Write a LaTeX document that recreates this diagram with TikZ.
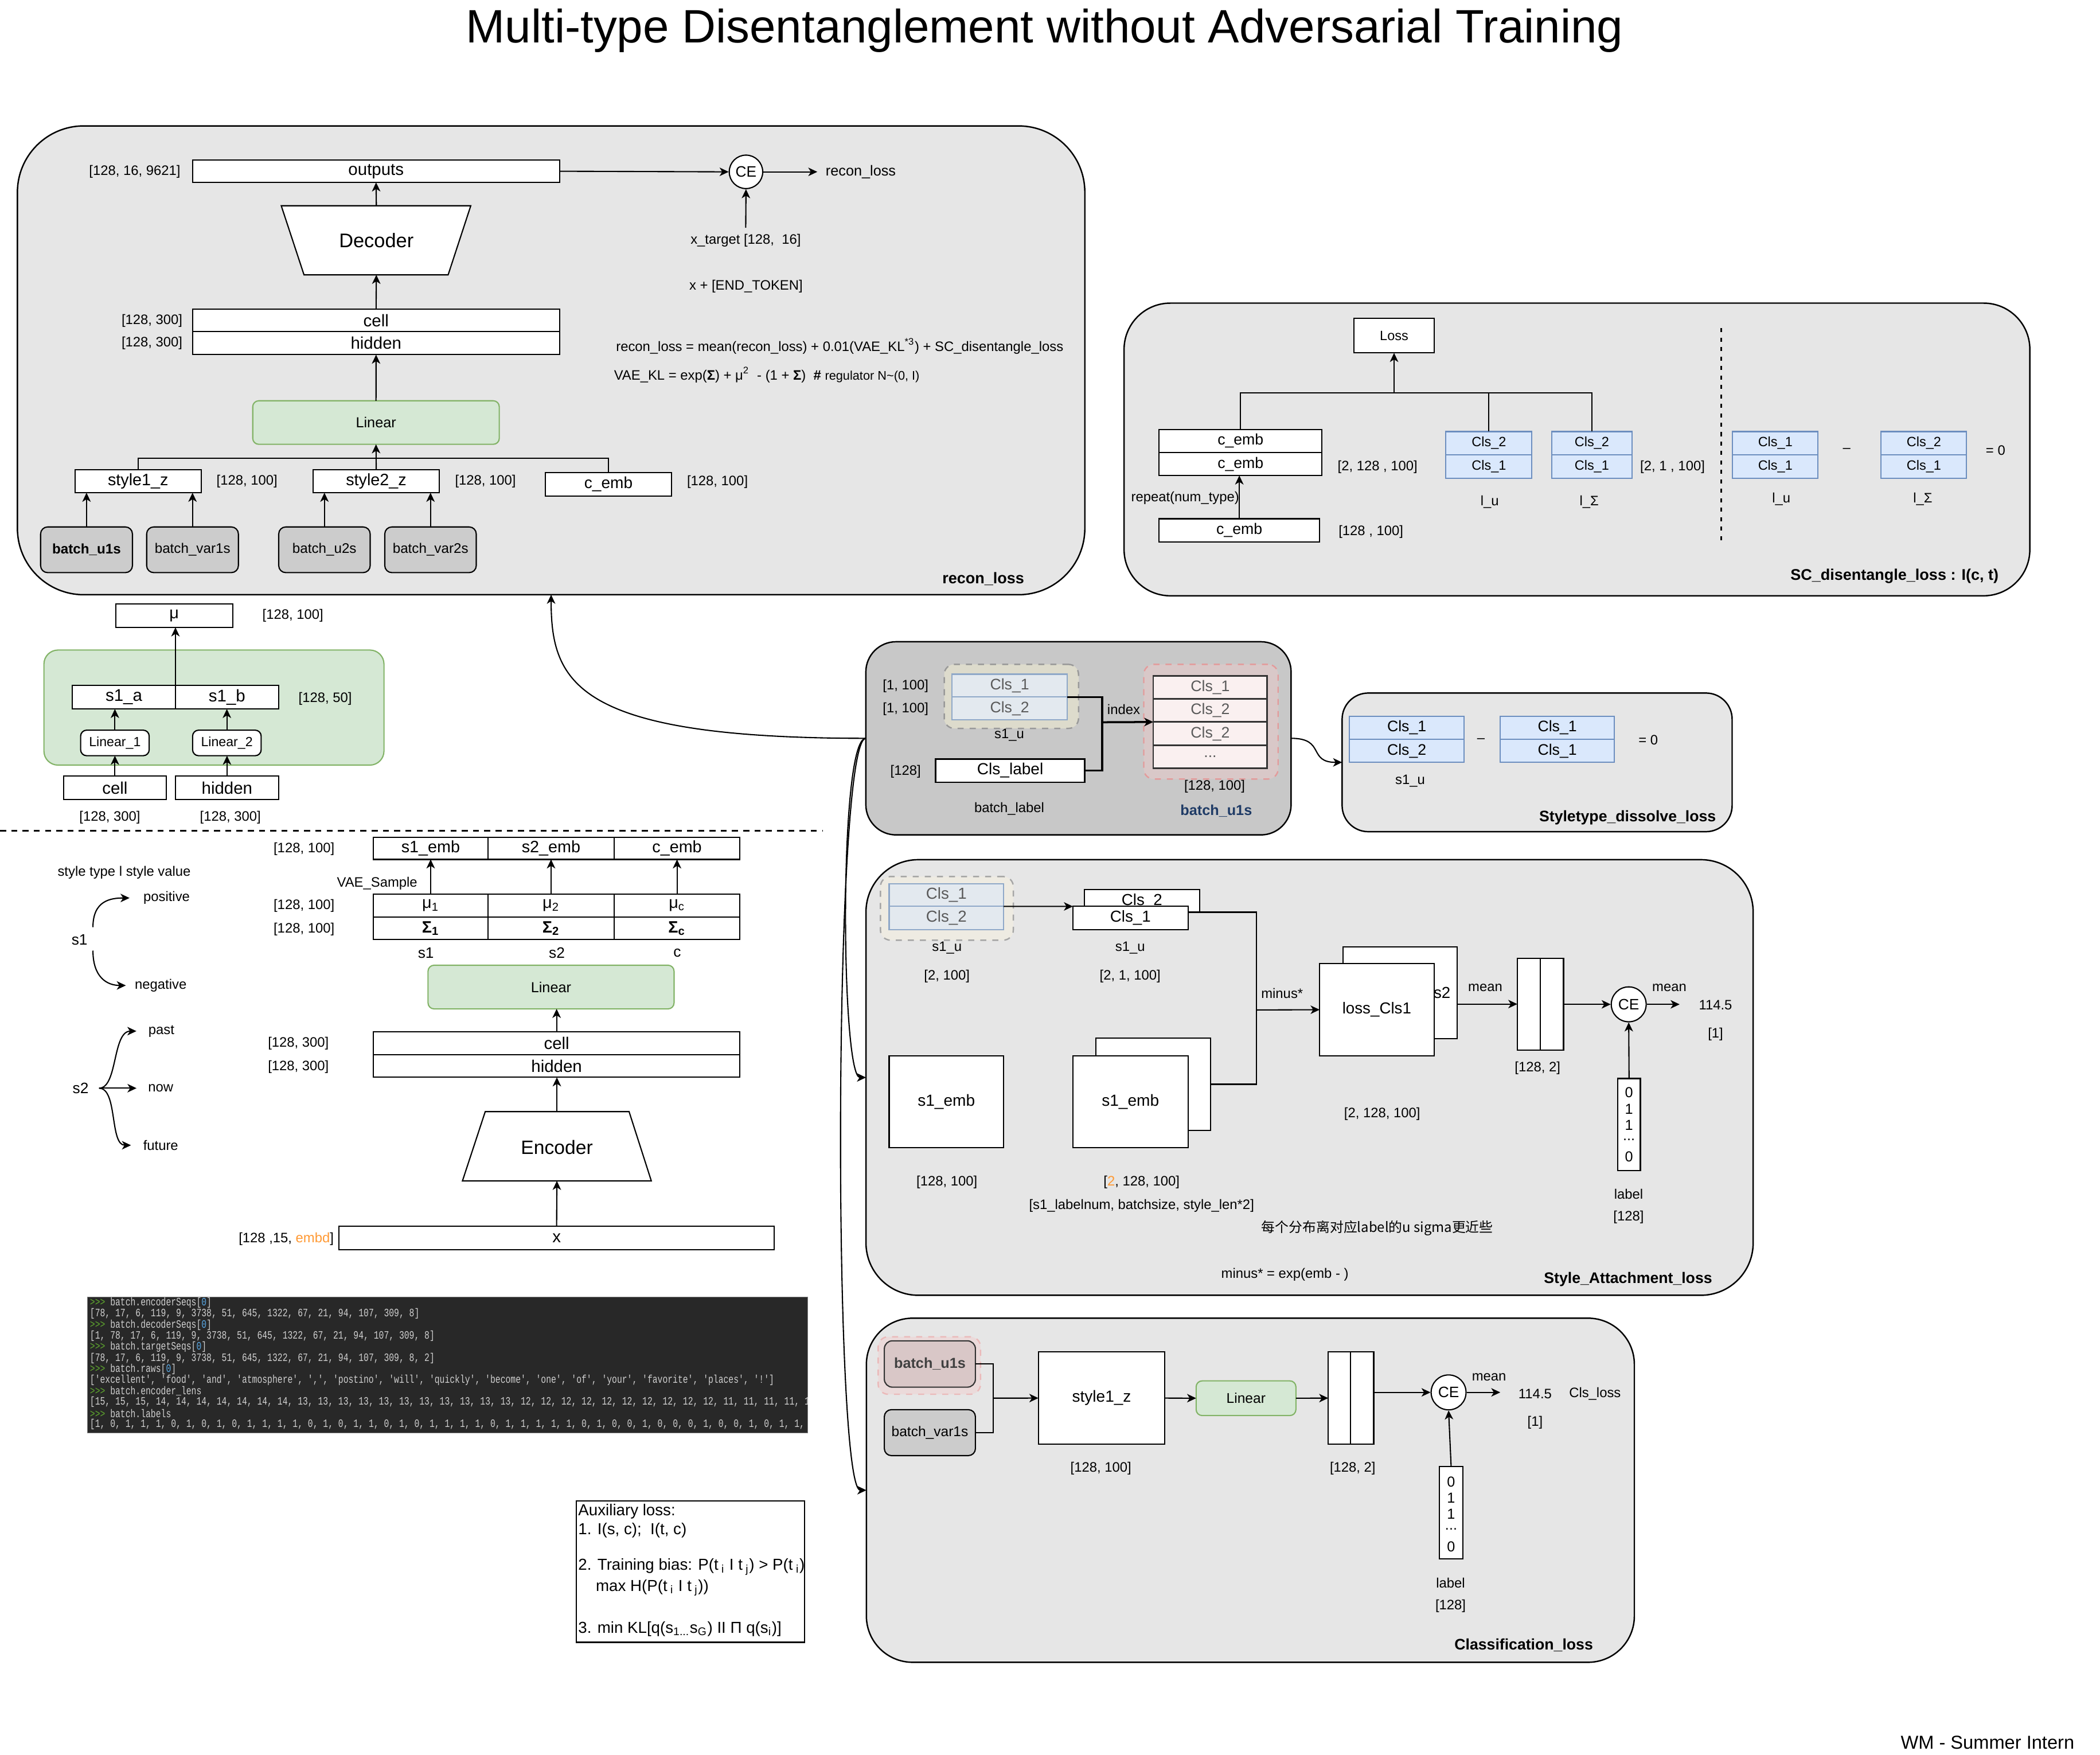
\documentclass[tikz,border=0pt]{standalone}
\usepackage{fontspec}
\setmainfont{Liberation Sans}
\newfontfamily\cjkfont{Noto Sans CJK SC}
\newfontfamily\codefont{Liberation Mono}
\usetikzlibrary{arrows.meta,calc}
\definecolor{bggray}{HTML}{E6E6E6}
\definecolor{dgray}{HTML}{C8C8C8}
\definecolor{bgray}{HTML}{CCCCCC}
\definecolor{gfill}{HTML}{D5E8D4}
\definecolor{gline}{HTML}{82B366}
\definecolor{bfill}{HTML}{DAE8FC}
\definecolor{bline}{HTML}{6C8EBF}
\definecolor{txgray}{HTML}{5A5A5A}
\definecolor{beige1}{HTML}{DDDBCC}
\definecolor{beige2}{HTML}{EEEBE2}
\definecolor{pink1}{HTML}{D9C8C8}
\definecolor{pinkline}{HTML}{E39B9B}
\definecolor{pinkcell}{HTML}{FAF0F0}
\definecolor{pink2}{HTML}{EBDADA}
\definecolor{rose}{HTML}{D9C7C7}
\definecolor{gcellfill}{HTML}{E3E9EF}
\definecolor{gcellline}{HTML}{8FA8C8}
\definecolor{codebg}{HTML}{282828}
\definecolor{codetx}{HTML}{D0D0D0}
\definecolor{codegr}{HTML}{5FA82E}
\definecolor{codebl}{HTML}{5AA9E6}
\definecolor{orng}{HTML}{FF9933}
\definecolor{navy}{HTML}{1F3B66}
\newcommand\mkbox[7]{%
  \pgfmathsetmacro\mkw{abs(#4-#2)*0.0234}%
  \pgfmathsetmacro\mkh{abs(#5-#3)*0.0234}%
  \node[inner sep=0pt, outer sep=0pt, minimum width=\mkw cm, minimum height=\mkh cm, #6] (#1) at ({(#2+#4)/2},{(#3+#5)/2}) {#7};%
}
\newcommand\sq{\textquotesingle}
\newcommand\pr{\textcolor{codegr}{>>>}\ }
\tikzset{
 fs/.style={font=\fontsize{#1}{#1}\selectfont},
 fsb/.style={font=\bfseries\fontsize{#1}{#1}\selectfont},
 lbl/.style={fs=6.8, inner sep=0pt},
 grp/.style={draw, fill=bggray, line width=0.7pt},
 box/.style={draw, fill=white, line width=0.6pt},
 gbox/.style={draw=gline, fill=gfill, line width=0.6pt, rounded corners=3pt},
 bbox/.style={draw, fill=bgray, line width=0.6pt, rounded corners=3.5pt},
 bluec/.style={draw=bline, fill=bfill, line width=0.6pt},
 gcell/.style={draw=gcellline, fill=gcellfill, line width=0.6pt, text=txgray, fs=7.6},
 pcell/.style={draw=black!80, fill=pinkcell, line width=0.8pt, text=txgray, fs=7.6},
 arr/.style={-{Stealth[length=4.5pt,width=4.2pt,inset=1.3pt]}, line width=0.6pt},
 cn/.style={line width=0.6pt},
 cecirc/.style={circle, draw, fill=white, line width=0.6pt, inner sep=0pt, fs=7.5},
 codeln/.style={anchor=west, inner sep=0pt, text=codetx, font=\codefont\fontsize{5.6}{5.6}\selectfont},
}
\begin{document}
\begin{tikzpicture}[x=0.0234cm, y=-0.0234cm]
\useasboundingbox (0,0) rectangle (1568,1310);
\fill[white] (0,0) rectangle (1568,1310);

\node[fs=23.3, anchor=base, inner sep=0pt] (title) at (780,32) {Multi-type Disentanglement without Adversarial Training};

% ===== recon_loss =====
\mkbox{recon}{13}{94}{810}{444}{grp, rounded corners=33pt}{}
\mkbox{outputs}{143.7}{119.5}{417.9}{136.2}{box, fs=8.4}{outputs}
\node[lbl, anchor=east] at (135,128) {[128, 16, 9621]};
\draw[box] (210,153.6) -- (351.5,153.6) -- (334.6,205.2) -- (227,205.2) -- cycle;
\node[fs=9.8] (dec) at (281,179.6) {Decoder};
\coordinate (dectop) at (281,153.6);
\coordinate (decbot) at (281,205.2);
\draw[arr] (dectop) -- (outputs.south);
\mkbox{cell}{143.7}{230.9}{417.9}{247.6}{box, fs=8.4}{cell}
\mkbox{hidden}{143.7}{247.6}{417.9}{264.8}{box, fs=8.4}{hidden}
\draw[arr] (cell.north) -- (decbot);
\node[lbl, anchor=east] at (136.5,239.3) {[128, 300]};
\node[lbl, anchor=east] at (136.5,256.2) {[128, 300]};
\mkbox{lin}{188.7}{299.2}{372.8}{331.7}{gbox, fs=7.2}{Linear}
\draw[arr] (lin.north) -- (hidden.south);
\mkbox{s1z}{56}{350.5}{150.2}{367.9}{box, fs=8.2}{style1\_z}
\mkbox{s2z}{233.8}{350.5}{328}{367.9}{box, fs=8.2}{style2\_z}
\mkbox{cemb}{407.2}{353}{501.4}{370.2}{box, fs=8}{c\_emb}
\node[lbl] at (184.4,359.2) {[128, 100]};
\node[lbl] at (362.5,359.2) {[128, 100]};
\node[lbl] at (535.7,360) {[128, 100]};
\draw[cn] (s1z.north) -- ++(0,-8.4) -| (cemb.north);
\draw[arr] (s2z.north) -- (lin.south);
\mkbox{bu1}{30.3}{393.4}{98.9}{427.5}{bbox, fsb=6.9}{batch\_u1s}
\mkbox{bv1}{109.5}{393.4}{178}{427.5}{bbox, fs=6.9}{batch\_var1s}
\mkbox{bu2}{208.1}{393.4}{276.4}{427.5}{bbox, fs=6.9}{batch\_u2s}
\mkbox{bv2}{287.3}{393.4}{355.6}{427.5}{bbox, fs=6.9}{batch\_var2s}
\draw[arr] (bu1.north) -- (bu1.north |- s1z.south);
\draw[arr] (bv1.north) -- (bv1.north |- s1z.south);
\draw[arr] (bu2.north) -- (bu2.north |- s2z.south);
\draw[arr] (bv2.north) -- (bv2.north |- s2z.south);
\node[cecirc, minimum size=0.585cm] (ce0) at (557,128.3) {CE};
\draw[arr] (outputs.east) -- (ce0.west);
\node[fs=7.2, inner sep=0pt] (rl) at (642.7,128.3) {recon\_loss};
\draw[arr, shorten >=4pt] (ce0.east) -- (rl.west);
\node[lbl] (xt) at (556.8,179.6) {x\_target [128,\ \ 16]};
\draw[arr] ([yshift=3pt]xt.north) -- (ce0.south);
\node[lbl] at (557,213.7) {x + [END\_TOKEN]};
\node[lbl, anchor=west] at (459.7,258.5) {recon\_loss = mean(recon\_loss) + 0.01(VAE\_KL\textsuperscript{*3}) + SC\_disentangle\_loss};
\node[lbl, anchor=west] at (458.2,280) {VAE\_KL = exp(\textbf{Σ}) + μ\textsuperscript{2}\ \ - (1 + \textbf{Σ})\ \ \textbf{\#} {\fontsize{6.2}{6.2}\selectfont regulator N\textasciitilde(0, I)}};
\node[fsb=7.7, anchor=east, inner sep=0pt] at (765,432) {recon\_loss};

% ===== SC_disentangle_loss =====
\mkbox{scbox}{839.3}{226.3}{1515.6}{444.8}{grp, rounded corners=23pt}{}
\mkbox{loss}{1011}{237.6}{1070.8}{263.5}{box, fs=6.7}{Loss}
\mkbox{sce1}{865.5}{320.6}{987}{337.8}{box, fs=7.6}{c\_emb}
\mkbox{sce2}{865.5}{337.8}{987}{355}{box, fs=7.6}{c\_emb}
\mkbox{sce3}{865.5}{387.3}{985.2}{404.7}{box, fs=7.6}{c\_emb}
\draw[arr] (sce3.north) -- (sce3.north |- sce2.south);
\node[lbl, anchor=east] at (925.5,371.7) {repeat(num\_type)};
\mkbox{lu2}{1079.6}{322.2}{1143.8}{339.6}{bluec, fs=6.7}{Cls\_2}
\mkbox{lu1}{1079.6}{339.6}{1143.8}{357}{bluec, fs=6.7}{Cls\_1}
\mkbox{ls2}{1158.6}{322.2}{1218.5}{339.6}{bluec, fs=6.7}{Cls\_2}
\mkbox{ls1}{1158.6}{339.6}{1218.5}{357}{bluec, fs=6.7}{Cls\_1}
\coordinate (scbus) at (1040.9,293.3);
\draw[cn] (sce1.north) |- (ls2.north |- scbus) -- (ls2.north);
\draw[cn] (lu2.north) -- (lu2.north |- scbus);
\draw[arr] (scbus) -- (loss.south);
\node[lbl] at (1028.6,348.5) {[2, 128 , 100]};
\node[lbl] at (1248.8,348.5) {[2, 1 , 100]};
\node[lbl] at (1112.3,374.6) {l\_u};
\node[lbl] at (1186.6,374.6) {l\_Σ};
\node[lbl] at (1023.6,397) {[128 , 100]};
\draw[dash pattern=on 2pt off 2.7pt, line width=0.8pt] (1285,245) -- (1285,404.3);
\mkbox{ra1}{1293.7}{322.2}{1357.4}{339.6}{bluec, fs=6.7}{Cls\_1}
\mkbox{ra2}{1293.7}{339.6}{1357.4}{357}{bluec, fs=6.7}{Cls\_1}
\mkbox{rb1}{1404.6}{322.2}{1468.4}{339.6}{bluec, fs=6.7}{Cls\_2}
\mkbox{rb2}{1404.6}{339.6}{1468.4}{357}{bluec, fs=6.7}{Cls\_1}
\node[lbl] at (1378.8,336.2) {–};
\node[lbl] at (1490,336.2) {= 0};
\node[lbl] at (1330,372.4) {l\_u};
\node[lbl] at (1435.7,372.4) {l\_Σ};
\node[fsb=7.7, anchor=east, inner sep=0pt] at (1492.5,430.3) {SC\_disentangle\_loss : I(c, t)};

% ===== mu block =====
\mkbox{mu}{86.4}{451}{173.7}{468.4}{box, fs=8.2}{μ}
\node[lbl] at (218.7,459.6) {[128, 100]};
\mkbox{gg}{32.8}{485.3}{286.7}{571.2}{draw=gline, fill=gfill, line width=0.6pt, rounded corners=7pt}{}
\mkbox{s1a}{54}{511.8}{131}{529.3}{box, fs=8.4}{s1\_a}
\mkbox{s1b}{131}{511.8}{208}{529.3}{box, fs=8.4}{s1\_b}
\node[lbl] at (242.8,521.7) {[128, 50]};
\mkbox{l1}{60.2}{545.1}{111.4}{564.2}{box, rounded corners=3pt, fs=6.6}{Linear\_1}
\mkbox{l2}{143.8}{545.1}{195}{564.2}{box, rounded corners=3pt, fs=6.6}{Linear\_2}
\mkbox{c2}{47.5}{579.5}{124.1}{596.8}{box, fs=8.4}{cell}
\mkbox{h2}{131}{579.5}{208}{596.8}{box, fs=8.4}{hidden}
\draw[arr] (l1.north) -- (l1.north |- s1a.south);
\draw[arr] (l2.north) -- (l2.north |- s1b.south);
\draw[arr] (c2.north) -- (c2.north |- l1.south);
\draw[arr] (h2.north) -- (h2.north |- l2.south);
\draw[arr] (s1a.north east) -- (s1a.north east |- mu.south);
\node[lbl] at (82,610.2) {[128, 300]};
\node[lbl] at (172,610.2) {[128, 300]};
\draw[dash pattern=on 3pt off 2.6pt, line width=0.8pt] (0,620.2) -- (614,620.2);

% ===== encoder =====
\mkbox{e1}{278.8}{625}{364.3}{641.6}{box, fs=8.2}{s1\_emb}
\mkbox{e2}{364.3}{625}{458.6}{641.6}{box, fs=8.2}{s2\_emb}
\mkbox{e3}{458.6}{625}{552.4}{641.6}{box, fs=8.2}{c\_emb}
\mkbox{m1}{278.8}{667.6}{364.3}{684.6}{box, fs=8.2}{μ\textsubscript{1}}
\mkbox{m2}{364.3}{667.6}{458.6}{684.6}{box, fs=8.2}{μ\textsubscript{2}}
\mkbox{m3}{458.6}{667.6}{552.4}{684.6}{box, fs=8.2}{μ\textsubscript{c}}
\mkbox{v1}{278.8}{684.6}{364.3}{701.4}{box, fs=8.2}{\textbf{Σ\textsubscript{1}}}
\mkbox{v2}{364.3}{684.6}{458.6}{701.4}{box, fs=8.2}{\textbf{Σ\textsubscript{2}}}
\mkbox{v3}{458.6}{684.6}{552.4}{701.4}{box, fs=8.2}{\textbf{Σ\textsubscript{c}}}
\draw[arr] (m1.north) -- (e1.south);
\draw[arr] (m2.north) -- (e2.south);
\draw[arr] (m3.north) -- (e3.south);
\node[lbl] at (227,633.7) {[128, 100]};
\node[lbl] at (227,676.3) {[128, 100]};
\node[lbl] at (227,693.8) {[128, 100]};
\node[lbl] at (281.6,659.5) {VAE\_Sample};
\node[fs=7.5, inner sep=0pt] at (318,711.3) {s1};
\node[fs=7.5, inner sep=0pt] at (415.8,711.3) {s2};
\node[fs=7.5, inner sep=0pt] at (505.7,711.3) {c};
\mkbox{lin2}{319.6}{720.6}{503.3}{753.2}{gbox, fs=7.2}{Linear}
\mkbox{cell3}{278.8}{770.2}{552.4}{787.3}{box, fs=8.4}{cell}
\mkbox{hid3}{278.8}{787.3}{552.4}{804.3}{box, fs=8.4}{hidden}
\draw[arr] (cell3.north) -- (cell3.north |- lin2.south);
\node[lbl] at (222.8,779.2) {[128, 300]};
\node[lbl] at (222.8,796.5) {[128, 300]};
\draw[box] (362.3,829.9) -- (469.7,829.9) -- (486.3,881.6) -- (345.3,881.6) -- cycle;
\node[fs=9.6] (enc) at (415.8,856.5) {Encoder};
\coordinate (enctop) at (415.8,829.9);
\coordinate (encbot) at (415.8,881.6);
\draw[arr] (enctop) -- (enctop |- hid3.south);
\mkbox{xin}{253}{915.5}{578.2}{933}{box, fs=8.4}{x}
\draw[arr] (xin.north) -- (encbot);
\node[lbl, anchor=east] at (249.5,925) {[128 ,15, \textcolor{orng}{embd}]};

% ===== style tree =====
\node[lbl] at (92.7,651.2) {style type l style value};
\node[fs=7.5, inner sep=0pt] (ts1) at (59.4,701.6) {s1};
\node[lbl] (pos) at (124.4,670.4) {positive};
\node[lbl] (neg) at (120,735.7) {negative};
\draw[arr] ([shift={(10,-9.4)}]ts1.center) .. controls +(0,-20) and +(-14,0) .. ([xshift=-6.7pt]pos.west);
\draw[arr] ([shift={(10,8.1)}]ts1.center) .. controls +(0,20) and +(-14,0) .. ([xshift=-4.3pt]neg.west);
\node[fs=7.5, inner sep=0pt] (ts2) at (60.2,812.4) {s2};
\node[lbl] (past) at (120.5,769.8) {past};
\node[lbl] (now) at (120,812.4) {now};
\node[lbl] (fut) at (120,855) {future};
\draw[arr] ([xshift=5pt]ts2.east) .. controls +(14,0) and +(-18,0) .. ([xshift=-5.8pt]past.west);
\draw[arr] ([xshift=5pt]ts2.east) -- ([xshift=-5.6pt]now.west);
\draw[arr] ([xshift=5pt]ts2.east) .. controls +(14,0) and +(-16,0) .. ([xshift=-5.9pt]fut.west);

% ===== code block =====
\mkbox{code}{65.2}{968.4}{603}{1069.7}{fill=codebg, draw=gray, line width=0.4pt}{}
\begin{scope}
\clip (65.2,968.4) rectangle (603,1069.7);
\node[codeln] at (66.9,972.7) {\scalebox{0.75}[1]{\pr batch.encoderSeqs[\textcolor{codebl}{0}]}};
\node[codeln] at (66.9,980.9) {\scalebox{0.75}[1]{[78, 17, 6, 119, 9, 3738, 51, 645, 1322, 67, 21, 94, 107, 309, 8]}};
\node[codeln] at (66.9,989.2) {\scalebox{0.75}[1]{\pr batch.decoderSeqs[\textcolor{codebl}{0}]}};
\node[codeln] at (66.9,997.4) {\scalebox{0.75}[1]{[1, 78, 17, 6, 119, 9, 3738, 51, 645, 1322, 67, 21, 94, 107, 309, 8]}};
\node[codeln] at (66.9,1005.7) {\scalebox{0.75}[1]{\pr batch.targetSeqs[\textcolor{codebl}{0}]}};
\node[codeln] at (66.9,1013.9) {\scalebox{0.75}[1]{[78, 17, 6, 119, 9, 3738, 51, 645, 1322, 67, 21, 94, 107, 309, 8, 2]}};
\node[codeln] at (66.9,1022.1) {\scalebox{0.75}[1]{\pr batch.raws[\textcolor{codebl}{0}]}};
\node[codeln] at (66.9,1030.4) {\scalebox{0.75}[1]{[\sq excellent\sq, \sq food\sq, \sq and\sq, \sq atmosphere\sq, \sq,\sq, \sq postino\sq, \sq will\sq, \sq quickly\sq, \sq become\sq, \sq one\sq, \sq of\sq, \sq your\sq, \sq favorite\sq, \sq places\sq, \sq !\sq]}};
\node[codeln] at (66.9,1038.6) {\scalebox{0.75}[1]{\pr batch.encoder\_lens}};
\node[codeln] at (66.9,1046.8) {\scalebox{0.75}[1]{[15, 15, 15, 14, 14, 14, 14, 14, 14, 14, 13, 13, 13, 13, 13, 13, 13, 13, 13, 13, 13, 12, 12, 12, 12, 12, 12, 12, 12, 12, 12, 11, 11, 11, 11, 11}};
\node[codeln] at (66.9,1055.1) {\scalebox{0.75}[1]{\pr batch.labels}};
\node[codeln] at (66.9,1063.3) {\scalebox{0.75}[1]{[1, 0, 1, 1, 1, 0, 1, 0, 1, 0, 1, 1, 1, 1, 0, 1, 0, 1, 1, 0, 1, 0, 1, 1, 1, 1, 0, 1, 1, 1, 1, 1, 0, 1, 0, 0, 1, 0, 0, 0, 1, 0, 0, 1, 0, 1, 1, 0}};
\end{scope}

% ===== auxiliary =====
\mkbox{aux}{430.3}{1120.4}{600.9}{1226.1}{box}{}
\node[fs=7.9, anchor=west, inner sep=0pt] at (431.5,1128.3) {Auxiliary loss:};
\node[fs=7.9, anchor=west, inner sep=0pt] at (431.5,1142.6) {1. I(s, c);\ \ I(t, c)};
\node[fs=7.9, anchor=west, inner sep=0pt] at (431.5,1169.7) {2. Training bias: P(t\textsubscript{ i} I t\textsubscript{ j}) > P(t\textsubscript{ i})};
\node[fs=7.9, anchor=west, inner sep=0pt] at (444.6,1185.4) {max H(P(t\textsubscript{ i} I t\textsubscript{ j}))};
\node[fs=7.9, anchor=west, inner sep=0pt] at (431.5,1216.1) {3. min KL[q(s\textsubscript{1...}s\textsubscript{G}) II Π q(s\textsubscript{i})]};

% ===== batch group =====
\mkbox{bgrp}{646.5}{479.1}{964}{623.3}{draw, fill=dgray, line width=0.7pt, rounded corners=15pt}{}
\mkbox{s1ug}{705}{496}{805.3}{543.8}{draw=gray!80, fill=beige1, dashed, line width=0.7pt, rounded corners=5pt}{}
\mkbox{bc1}{710.9}{503.3}{796.8}{520.4}{gcell}{Cls\_1}
\mkbox{bc2}{710.9}{520.4}{796.8}{537.5}{gcell}{Cls\_2}
\node[lbl] at (676.2,512.4) {[1, 100]};
\node[lbl] at (676.2,529.5) {[1, 100]};
\node[lbl] at (753.6,548.8) {s1\_u};
\mkbox{pgrp}{854}{496}{954.3}{581.6}{draw=pinkline, fill=pink1, dashed, line width=0.7pt, rounded corners=5pt}{}
\mkbox{pc1}{861.1}{504.7}{946.2}{521.8}{pcell}{Cls\_1}
\mkbox{pc2}{861.1}{521.8}{946.2}{539}{pcell}{Cls\_2}
\mkbox{pc3}{861.1}{539}{946.2}{556.4}{pcell}{Cls\_2}
\mkbox{pc4}{861.1}{556.4}{946.2}{573.5}{pcell}{...}
\mkbox{clab}{698.6}{566.6}{810}{584}{box, line width=0.8pt, fs=8}{Cls\_label}
\node[lbl] at (676.2,575.9) {[128]};
\coordinate (idx) at (823,539.2);
\draw[line width=1pt] (bc1.south east) -| (idx);
\draw[line width=1pt] (clab.east) -| (idx);
\draw[arr, line width=1pt] (idx) -- (pc3.north west);
\node[lbl] at (839,529.5) {index};
\node[lbl] at (906.9,587.3) {[128, 100]};
\node[lbl] at (753.6,603.7) {batch\_label};
\node[fsb=7.2, text=navy, inner sep=0pt] at (908.1,605.6) {batch\_u1s};

% ===== Styletype =====
\mkbox{stbox}{1002.1}{517.4}{1293.3}{620.9}{grp, rounded corners=13pt}{}
\mkbox{st1}{1007.6}{534.8}{1093.1}{551.9}{bluec, fs=7.6}{Cls\_1}
\mkbox{st2}{1007.6}{551.9}{1093.1}{569.2}{bluec, fs=7.6}{Cls\_2}
\mkbox{st3}{1120.2}{534.8}{1205.3}{551.9}{bluec, fs=7.6}{Cls\_1}
\mkbox{st4}{1120.2}{551.9}{1205.3}{569.2}{bluec, fs=7.6}{Cls\_1}
\node[lbl] at (1105.8,552.6) {–};
\node[lbl] at (1230.7,552.6) {= 0};
\node[lbl] at (1052.9,583) {s1\_u};
\node[fsb=7.6, anchor=east, inner sep=0pt] at (1281.5,610.2) {Styletype\_dissolve\_loss};
\draw[arr] (bgrp.east) .. controls (990,551.2) and (976,569.2) .. (stbox.west);

% ===== Style_Attachment =====
\mkbox{sabox}{646.6}{641.8}{1309}{967}{grp, rounded corners=26pt}{}
\mkbox{sag}{657.4}{654.4}{756.6}{701.9}{draw=gray!70, fill=beige2, dashed, line width=0.7pt, rounded corners=5pt}{}
\mkbox{sa1}{663.9}{659.7}{749.3}{676.7}{gcell, fs=7.9}{Cls\_1}
\mkbox{sa2}{663.9}{676.7}{749.3}{694}{gcell, fs=7.9}{Cls\_2}
\node[lbl] at (707,707.6) {s1\_u};
\node[lbl] at (707,728.9) {[2, 100]};
\mkbox{sb2}{809.7}{664.2}{895.6}{681}{box, fs=7.9}{Cls\_2}
\mkbox{sb1}{801.1}{676.7}{887}{694}{box, fs=7.9}{Cls\_1}
\draw[arr] (sa1.south east) -- (sb1.north west);
\node[lbl] at (843.8,707.6) {s1\_u};
\node[lbl] at (843.8,728.9) {[2, 1, 100]};
\mkbox{se0}{663.9}{788.1}{749.3}{856.7}{box, fs=8}{s1\_emb}
\mkbox{seb}{818.3}{774.9}{903.8}{844}{box}{}
\mkbox{sef}{801.1}{788.1}{887}{856.7}{box, fs=8}{s1\_emb}
\coordinate (mn) at (938.3,754);
\draw[cn] (sb2.south east) -| (mn);
\draw[cn] (seb.east) -| (mn);
\mkbox{lb}{1002.6}{706.8}{1088}{775.3}{box}{}
\node[fs=7.9, anchor=east, inner sep=0pt] at (1083.3,742) {loss\_Cls2};
\mkbox{lf}{985.3}{719.5}{1070.7}{788.1}{box, fs=7.9}{loss\_Cls1}
\draw[arr] (mn) -- (lf.west);
\node[lbl] at (957.3,741.7) {minus*};
\mkbox{r2a}{1132.9}{715.3}{1150.1}{783.9}{box}{}
\mkbox{r2b}{1150.1}{715.3}{1167.4}{783.9}{box}{}
\draw[arr] (lb.east |- r2a.west) -- (r2a.west);
\node[lbl] at (1109,737.6) {mean};
\node[lbl] at (1148,797.3) {[128, 2]};
\node[cecirc, minimum size=0.61cm] (ce1) at (1216.1,749.8) {CE};
\draw[arr] (r2b.east |- ce1.west) -- (ce1.west);
\coordinate (m1end) at (1254.1,749.8);
\draw[arr] (ce1.east) -- (m1end);
\node[lbl] at (1246.4,737.6) {mean};
\node[lbl] at (1280.9,750.2) {114.5};
\node[lbl] at (1280.9,772.1) {[1]};
\mkbox{lab1}{1207.9}{805.2}{1224.8}{873.8}{box}{}
\node[fs=7.2, inner sep=0pt] at (1216.3,815.8) {0};
\node[fs=7.2, inner sep=0pt] at (1216.3,828) {1};
\node[fs=7.2, inner sep=0pt] at (1216.3,839.9) {1};
\node[fs=7.2, inner sep=0pt] at (1216.3,851) {...};
\node[fs=7.2, inner sep=0pt] at (1216.3,863.7) {0};
\draw[arr] (lab1.north) -- (ce1.south);
\node[lbl] at (1216,891.4) {label};
\node[lbl] at (1216,908.9) {[128]};
\node[lbl] at (1032,831.8) {[2, 128, 100]};
\node[lbl] at (707,882.5) {[128, 100]};
\node[lbl] at (852.4,882.5) {[\textcolor{orng}{2}, 128, 100]};
\node[lbl] at (852.4,900) {[s1\_labelnum, batchsize, style\_len*2]};
\node[font=\cjkfont\fontsize{6.8}{6.8}\selectfont, inner sep=0pt] at (1028.4,917) {每个分布离对应label的u sigma更近些};
\node[lbl] at (959.4,951.7) {minus* = exp(emb - )};
\node[fsb=7.6, anchor=east, inner sep=0pt] at (1278.7,954.9) {Style\_Attachment\_loss};

% ===== Classification =====
\mkbox{clbox}{646.9}{984.1}{1220.3}{1241}{grp, rounded corners=23pt}{}
\mkbox{cpg}{655.7}{998}{732.1}{1040.9}{draw=pinkline!70, fill=pink2, dashed, line width=0.7pt, rounded corners=5pt}{}
\mkbox{cbu}{660.3}{1001}{728.3}{1035.6}{draw=black!80, fill=rose, line width=0.6pt, rounded corners=4pt, fsb=7.2, text=black!75}{batch\_u1s}
\mkbox{cbv}{660.3}{1052.4}{728.3}{1086.7}{bbox, fs=7}{batch\_var1s}
\coordinate (cj) at (741.7,1043.8);
\draw[cn] (cbu.east) -| (cj);
\draw[cn] (cbv.east) -| (cj);
\mkbox{sz}{775.3}{1009.4}{869.8}{1078.1}{box, fs=8}{style1\_z}
\draw[arr] (cj) -- (sz.west);
\mkbox{cl}{893.1}{1030.9}{967.6}{1056.8}{gbox, fs=7}{Linear}
\draw[arr] (sz.east) -- (cl.west);
\mkbox{c2a}{991.7}{1009.4}{1008.5}{1078.1}{box}{}
\mkbox{c2b}{1008.5}{1009.4}{1025.7}{1078.1}{box}{}
\draw[arr] (cl.east) -- (c2a.west);
\node[cecirc, minimum size=0.61cm] (ce2) at (1081.6,1039.5) {CE};
\draw[arr] (c2b.east |- ce2.west) -- (ce2.west);
\coordinate (m2end) at (1120.2,1039.5);
\draw[arr] (ce2.east) -- (m2end);
\node[lbl] at (1111.8,1028) {mean};
\node[lbl] at (1146.2,1040.5) {114.5};
\node[lbl] at (1190.9,1040.5) {Cls\_loss};
\node[lbl] at (1146.2,1062.2) {[1]};
\mkbox{lab2}{1074.7}{1095}{1092.3}{1163.7}{box}{}
\node[fs=7.2, inner sep=0pt] at (1083.5,1106.4) {0};
\node[fs=7.2, inner sep=0pt] at (1083.5,1118.1) {1};
\node[fs=7.2, inner sep=0pt] at (1083.5,1130.3) {1};
\node[fs=7.2, inner sep=0pt] at (1083.5,1141.5) {...};
\node[fs=7.2, inner sep=0pt] at (1083.5,1154.5) {0};
\draw[arr] (lab2.north) -- (ce2.south);
\node[lbl] at (1083.1,1181.9) {label};
\node[lbl] at (1083.1,1199) {[128]};
\node[lbl] at (822,1096.4) {[128, 100]};
\node[lbl] at (1010,1096.4) {[128, 2]};
\node[fsb=7.6, anchor=east, inner sep=0pt] at (1189.7,1228.4) {Classification\_loss};

% ===== connectors from batch group =====
\draw[arr] (bgrp.west) .. controls (430,551.2) and (411.5,510) .. (recon.south);
\draw[arr] (bgrp.west) .. controls (626,551.2) and (628,804.4) .. (sabox.west);
\draw[arr] (bgrp.west) .. controls (622,551.2) and (622,1112.5) .. (clbox.west);

\node[fs=9.3, inner sep=0pt] at (1484,1301) {WM - Summer Intern};
\end{tikzpicture}
\end{document}
